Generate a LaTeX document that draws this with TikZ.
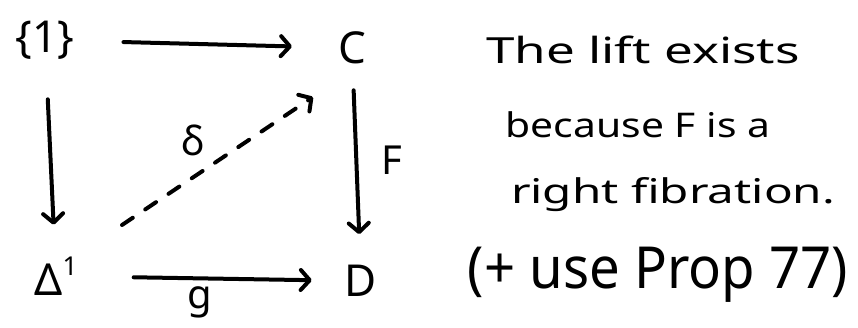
\documentclass[tikz,border=0pt]{standalone}
\usepackage{fontspec}
\usepackage{graphicx}
\setmainfont{Noto Sans}
\usetikzlibrary{arrows.meta}
\begin{document}
\begin{tikzpicture}[x=1pt,y=-1pt,
  obj/.style={inner sep=0pt,font=\fontsize{44}{46}\selectfont},
  lab/.style={inner sep=0pt,font=\fontsize{40}{42}\selectfont},
  txt/.style={inner sep=0pt,font=\fontsize{34}{38}\selectfont},
  arr/.style={line width=4pt,line cap=round,-{Straight Barb[length=9pt,width=20pt,line width=4pt,round]}},
  dsh/.style={arr,dash pattern=on 13pt off 15pt}]
\useasboundingbox (0,0) rectangle (858,327);
\node[obj] (one) at (45,40) {\{1\}};
\node[obj] (C) at (352,48) {C};
\node[obj] (Del) at (56,276) {Δ\raisebox{0.45em}{\fontsize{26}{28}\selectfont 1}};
\node[obj] (D) at (361,281) {D};
\draw[arr,shorten <=49pt,shorten >=46pt] (one) -- (C);
\draw[arr,shorten <=40pt,shorten >=32pt] (one) -- (Del);
\draw[arr,shorten <=26pt,shorten >=31pt] (C) -- (D);
\draw[arr,shorten <=56pt,shorten >=33pt] (Del) -- (D);
\draw[dsh] ([xshift=66pt,yshift=51pt]Del.center) -- ([xshift=-39pt,yshift=-49pt]C.center);
\node[lab] (F) at (392,160) {F};
\node[lab] (g) at (200,302) {g};
\node[lab] (l) at (193,140) {δ};
\node[txt] (t1) at (643,50) {\scalebox{1.42}[1]{\fontsize{36}{38}\selectfont The lift exists}};
\node[txt] (t2) at (638,125) {\scalebox{1.2}[1]{because F is a}};
\node[txt] (t3) at (673,195) {\scalebox{1.4}[1]{right fibration.}};
\node[txt] (t4) at (658,275) {\scalebox{0.94}[1]{\fontsize{58}{60}\selectfont (+ use Prop 77)}};
\end{tikzpicture}
\end{document}
